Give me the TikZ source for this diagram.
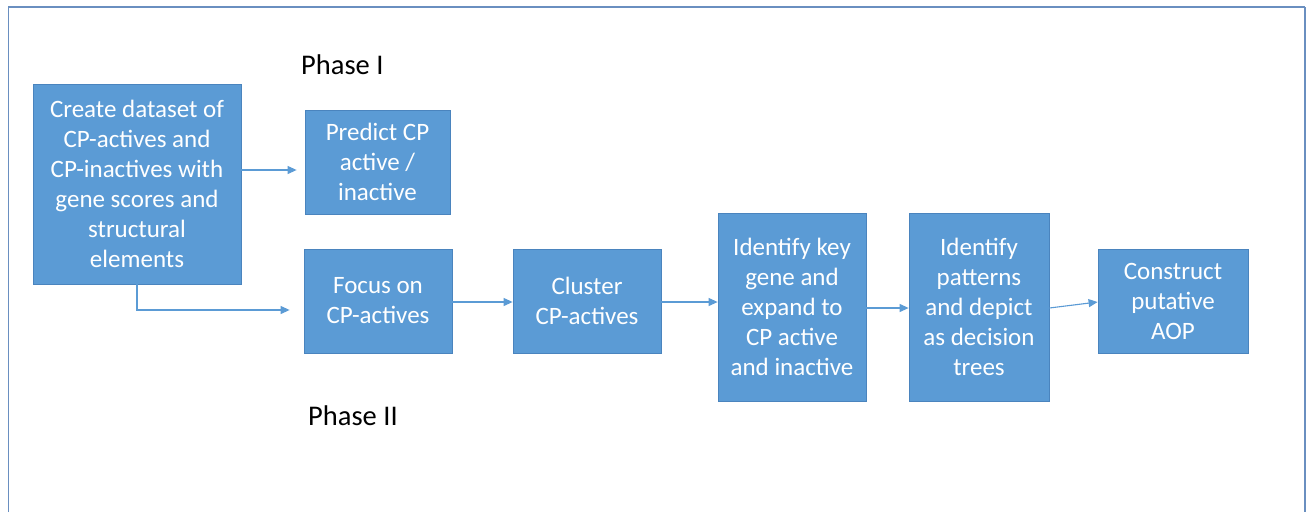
\documentclass[tikz,border=0pt]{standalone}
\usepackage{fontspec}
\setmainfont{Carlito}
\usetikzlibrary{arrows.meta}
\definecolor{boxfill}{HTML}{5B9BD5}
\definecolor{boxline}{HTML}{4A84BE}
\definecolor{framec}{HTML}{6A8FC0}
\tikzset{
  proc/.style={draw=boxline, line width=0.8pt, fill=boxfill, text=white, align=center,
    font=\fontsize{25}{30}\selectfont, inner sep=0pt},
  conn/.style={draw=boxfill, line width=1.1pt, -{Triangle[length=9pt,width=8pt]}, shorten >=8pt},
  phase/.style={font=\fontsize{28.5}{32}\selectfont, text=black, anchor=west, inner sep=0pt}
}
\begin{document}
\begin{tikzpicture}[x=1pt,y=-1pt]
\useasboundingbox (0,0) rectangle (1311,512);
\fill[white] (0,0) rectangle (1311,512);
\draw[framec, line width=1.5pt] (8.5,512) -- (8.5,7) -- (1305,7);
\draw[framec, line width=2.5pt] (1305,7) -- (1305,512);

\node[proc, minimum width=208pt, minimum height=200pt] (A) at (137,184)
  {Create dataset of\\CP-actives and\\CP-inactives with\\gene scores and\\structural\\elements};
\node[proc, minimum width=145pt, minimum height=104pt] (P) at (377.5,162)
  {Predict CP\\active /\\inactive};
\node[proc, minimum width=148pt, minimum height=104pt] (F) at (378,301)
  {Focus on\\CP-actives};
\node[proc, minimum width=148pt, minimum height=104pt] (C) at (587,301)
  {Cluster\\CP-actives};
\node[proc, minimum width=148pt, minimum height=188pt] (K) at (792,307)
  {Identify key\\gene and\\expand to\\CP active\\and inactive};
\node[proc, minimum width=140pt, minimum height=188pt] (T) at (979,307)
  {Identify\\patterns\\and depict\\as decision\\trees};
\node[proc, minimum width=150pt, minimum height=104pt] (O) at (1173,301)
  {Construct\\putative\\AOP};

\node[phase] (ph1) at (301,65) {Phase I};
\node[phase] (ph2) at (308,416) {Phase II};

\coordinate (a1) at (A.east |- 0,170);
\coordinate (p1) at (P.west |- 0,170);
\draw[conn] (a1) -- (p1);
\coordinate (a2) at (137,284);
\coordinate (f1) at (F.west |- 0,310);
\draw[conn, shorten >=14pt] (a2) |- (f1);
\draw[conn, shorten >=0pt] (F.east |- 0,302) -- (C.west |- 0,302);
\draw[conn, shorten >=0pt] (C.east |- 0,302) -- (K.west |- 0,302);
\draw[conn, shorten >=0pt] (K.east |- 0,308) -- (T.west |- 0,308);
\draw[conn, shorten >=0pt] (T.east |- 0,308) -- (O.west |- 0,302);
\end{tikzpicture}
\end{document}
